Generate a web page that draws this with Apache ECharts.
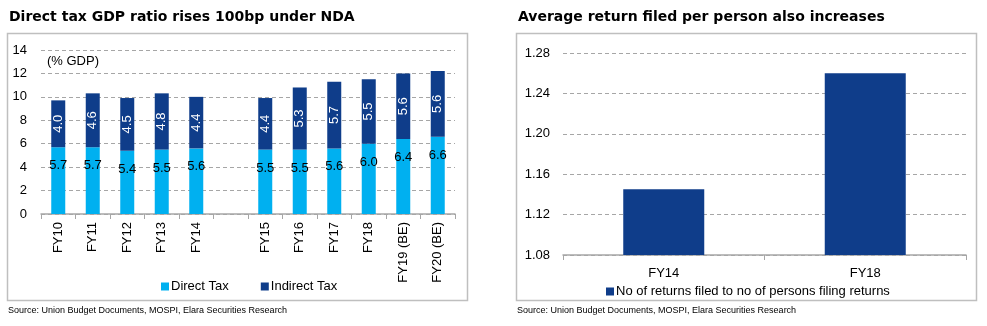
<!DOCTYPE html>
<html>
<head>
<meta charset="utf-8">
<script src="https://cdn.jsdelivr.net/npm/echarts@6/dist/echarts.min.js"></script>
<style>
  html, body { margin: 0; padding: 0; background: #fff; }
  #chart { width: 987px; height: 326px; }
</style>
</head>
<body>
<div id="chart"></div>
<script>
// Tax-to-GDP ratios (% of GDP); the empty slot separates UPA and NDA years
const taxYears = ['FY10', 'FY11', 'FY12', 'FY13', 'FY14', '', 'FY15', 'FY16', 'FY17', 'FY18', 'FY19 (BE)', 'FY20 (BE)'];
const directTax = [5.7, 5.7, 5.4, 5.5, 5.6, null, 5.5, 5.5, 5.6, 6.0, 6.4, 6.6];
const indirectTax = [4.0, 4.6, 4.5, 4.8, 4.4, null, 4.4, 5.3, 5.7, 5.5, 5.6, 5.6];

// Returns filed per person filing
const returnYears = ['FY14', 'FY18'];
const returnsPerPerson = [1.145, 1.26];

const LIGHT = '#00B0F0';
const NAVY = '#0F3D8A';
const FONT = '"Liberation Sans", Arial, sans-serif';
const TITLE_FONT = '"DejaVu Sans", Verdana, sans-serif';
const GRID_LINE = { show: true, lineStyle: { color: '#A6A6A6', type: [4, 3], width: 1 } };
const AXIS_LINE = { show: true, lineStyle: { color: '#A6A6A6', width: 1.5 } };
const SOURCE = 'Source: Union Budget Documents, MOSPI, Elara Securities Research';

const chart = echarts.init(document.getElementById('chart'), null, { renderer: 'canvas' });

chart.setOption({
  backgroundColor: '#ffffff',
  animation: false,
  textStyle: { fontFamily: FONT },
  title: [
    { text: 'Direct tax GDP ratio rises 100bp under NDA', left: 4, top: 5,
      textStyle: { fontFamily: TITLE_FONT, fontWeight: 'bold', fontSize: 14, color: '#000' } },
    { text: 'Average return filed per person also increases', left: 513, top: 5,
      textStyle: { fontFamily: TITLE_FONT, fontWeight: 'bold', fontSize: 14, color: '#000' } },
    { text: SOURCE, left: 3, top: 301,
      textStyle: { fontFamily: FONT, fontWeight: 'normal', fontSize: 9, color: '#000' } },
    { text: SOURCE, left: 512, top: 301,
      textStyle: { fontFamily: FONT, fontWeight: 'normal', fontSize: 9, color: '#000' } }
  ],
  graphic: [
    { type: 'rect', shape: { x: 7.5, y: 33.5, width: 460, height: 267 }, silent: true,
      style: { fill: null, stroke: '#BFBFBF', lineWidth: 1.5 } },
    { type: 'rect', shape: { x: 516.5, y: 33.5, width: 460, height: 267 }, silent: true,
      style: { fill: null, stroke: '#BFBFBF', lineWidth: 1.5 } },
    { type: 'text', left: 47, top: 55, silent: true,
      style: { text: '(% GDP)', fontFamily: FONT, fontSize: 13, fill: '#000' } }
  ],
  legend: [
    { data: ['Direct Tax', 'Indirect Tax'], left: 156, top: 275, itemWidth: 8, itemHeight: 8, itemGap: 32,
      icon: 'rect', textStyle: { fontFamily: FONT, fontSize: 13, color: '#000', padding: [0, 0, 0, -3] } },
    { data: ['No of returns filed to no of persons filing returns'], left: 601, top: 280, itemWidth: 8, itemHeight: 8,
      icon: 'rect', textStyle: { fontFamily: FONT, fontSize: 13, color: '#000', padding: [0, 0, 0, -3] } }
  ],
  grid: [
    { left: 41, top: 50, width: 414, height: 164 },
    { left: 563, top: 53, width: 403, height: 202 }
  ],
  xAxis: [
    { type: 'category', gridIndex: 0, data: taxYears,
      axisLine: AXIS_LINE,
      axisTick: { show: true, length: 5, lineStyle: { color: '#A6A6A6' } },
      axisLabel: { rotate: 90, fontSize: 13, color: '#000', margin: 8, interval: 0 } },
    { type: 'category', gridIndex: 1, data: returnYears,
      axisLine: AXIS_LINE,
      axisTick: { show: true, length: 5, lineStyle: { color: '#A6A6A6' } },
      axisLabel: { fontSize: 13, color: '#000', margin: 12 } }
  ],
  yAxis: [
    { type: 'value', gridIndex: 0, min: 0, max: 14, interval: 2,
      axisLine: { show: false }, axisTick: { show: false }, splitLine: GRID_LINE,
      axisLabel: { fontSize: 13, color: '#000', margin: 14 } },
    { type: 'value', gridIndex: 1, min: 1.08, max: 1.28, interval: 0.04,
      axisLine: { show: false }, axisTick: { show: false }, splitLine: GRID_LINE,
      axisLabel: { fontSize: 13, color: '#000', margin: 13, formatter: v => v.toFixed(2) } }
  ],
  series: [
    { name: 'Direct Tax', type: 'bar', xAxisIndex: 0, yAxisIndex: 0, stack: 'tax',
      data: directTax, barWidth: 14, itemStyle: { color: LIGHT },
      label: { show: true, position: 'insideTop', distance: 12, color: '#000', fontSize: 13,
        formatter: p => p.value.toFixed(1) } },
    { name: 'Indirect Tax', type: 'bar', xAxisIndex: 0, yAxisIndex: 0, stack: 'tax',
      data: indirectTax, barWidth: 14, itemStyle: { color: NAVY },
      label: { show: true, position: 'inside', rotate: 90, color: '#fff', fontSize: 13,
        formatter: p => p.value.toFixed(1) } },
    { name: 'No of returns filed to no of persons filing returns', type: 'bar', xAxisIndex: 1, yAxisIndex: 1,
      data: returnsPerPerson, barWidth: 81, itemStyle: { color: NAVY } }
  ]
});
</script>
</body>
</html>
